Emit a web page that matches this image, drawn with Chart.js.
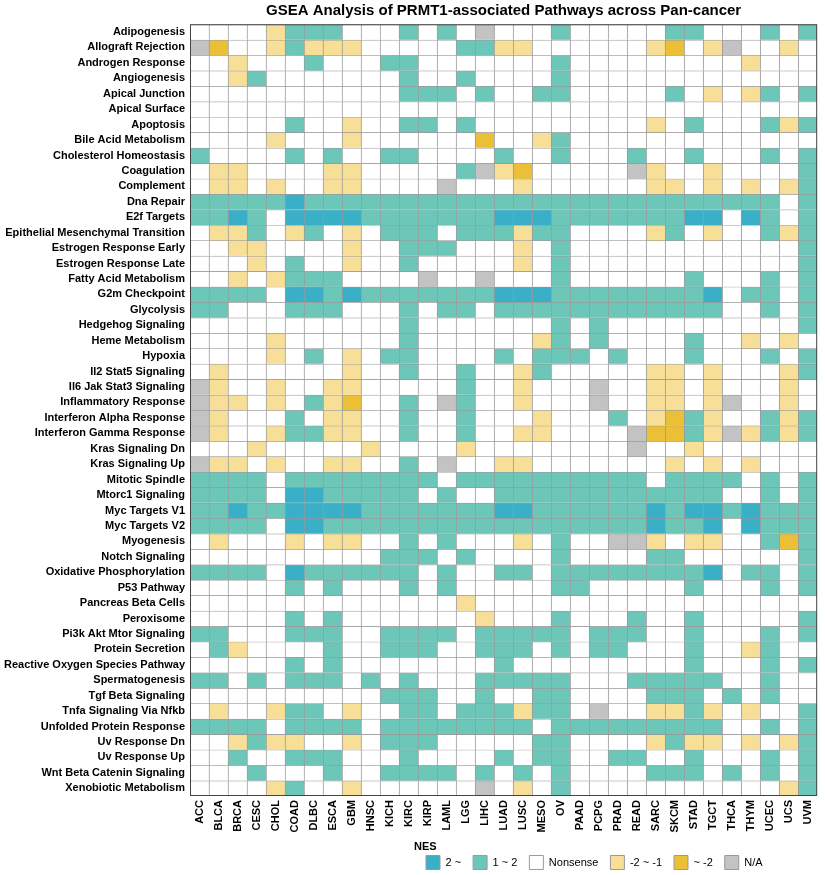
<!DOCTYPE html>
<html>
<head>
<meta charset="utf-8">
<script src="https://cdn.jsdelivr.net/npm/chart.js@4.4.1/dist/chart.umd.min.js"></script>
<style>
  html, body { margin: 0; padding: 0; background: #fff; }
  #wrap { width: 825px; height: 875px; }
</style>
</head>
<body>
<div id="wrap"><canvas id="gsea"></canvas></div>
<script>
const cancers = ['ACC', 'BLCA', 'BRCA', 'CESC', 'CHOL', 'COAD', 'DLBC', 'ESCA', 'GBM', 'HNSC', 'KICH',
    'KIRC', 'KIRP', 'LAML', 'LGG', 'LIHC', 'LUAD', 'LUSC', 'MESO', 'OV', 'PAAD', 'PCPG',
    'PRAD', 'READ', 'SARC', 'SKCM', 'STAD', 'TGCT', 'THCA', 'THYM', 'UCEC', 'UCS', 'UVM'];

const pathways = ['Adipogenesis', 'Allograft Rejection', 'Androgen Response', 'Angiogenesis',
    'Apical Junction', 'Apical Surface', 'Apoptosis', 'Bile Acid Metabolism', 'Cholesterol Homeostasis',
    'Coagulation', 'Complement', 'Dna Repair', 'E2f Targets', 'Epithelial Mesenchymal Transition',
    'Estrogen Response Early', 'Estrogen Response Late', 'Fatty Acid Metabolism', 'G2m Checkpoint',
    'Glycolysis', 'Hedgehog Signaling', 'Heme Metabolism', 'Hypoxia', 'Il2 Stat5 Signaling',
    'Il6 Jak Stat3 Signaling', 'Inflammatory Response', 'Interferon Alpha Response',
    'Interferon Gamma Response', 'Kras Signaling Dn', 'Kras Signaling Up', 'Mitotic Spindle',
    'Mtorc1 Signaling', 'Myc Targets V1', 'Myc Targets V2', 'Myogenesis', 'Notch Signaling',
    'Oxidative Phosphorylation', 'P53 Pathway', 'Pancreas Beta Cells', 'Peroxisome',
    'Pi3k Akt Mtor Signaling', 'Protein Secretion', 'Reactive Oxygen Species Pathway',
    'Spermatogenesis', 'Tgf Beta Signaling', 'Tnfa Signaling Via Nfkb', 'Unfolded Protein Response',
    'Uv Response Dn', 'Uv Response Up', 'Wnt Beta Catenin Signaling', 'Xenobiotic Metabolism'];

// one string per pathway, one char per cancer (ACC..KICH  KIRC..PCPG  PRAD..UVM)
// H = "2 ~", h = "1 ~ 2", . = Nonsense, l = "-2 ~ -1", L = "~ -2", x = N/A
const nesCodes = [
    '....lhhh... h.h.x...h.. ...hh...h.h',
    'xL..lhlll.. ...hhll.... ..lL.lx..l.',
    '..l...h...h h.......h.. .......l...',
    '..lh....... h..h....h.. ...........',
    '........... hhh.h..hh.. ...h.l.lh.h',
    '........... ........... ...........',
    '.....h..l.. hh.h....... ..l.h...hlh',
    '....l...l.. ....L..lh.. ...........',
    'h....h.h..h h....h..h.. .h..h...h.h',
    '.ll....ll.. ...hxlL.... .xl..l....h',
    '.ll.l..ll.. ..x...l.... ..ll.l.l.lh',
    'hhhhhHhhhhh hhhhhhhhhhh hhhhhhhhh.h',
    'hhHh.HHHHhh hhhhhHHHhhh hhhhHH.Hh.h',
    '.llh.lh.l.h hh.hhhlhh.. ..lh.l..hlh',
    '..ll....l.. hhh...l.h.. ..........h',
    '...l.h..l.. h.....l.h.. ..........h',
    '..l.lhhh... .x..x...h.. ....h...h.h',
    'hhhh.HHhHhh hhhhhHHHhhh hhhhhH.hh.h',
    'hh...hhh... h.hh.hhhhhh hhhhhh..h.h',
    '........... h.......h.h ..........h',
    '....l...... h......lh.h ....h..l.l.',
    '....l.h.l.h h....h.hhh. h...h...h.h',
    '.l......l.. h..h..lh... ..ll.l...lh',
    'xl..l..ll.. ...h..l...x ..ll.l...l.',
    'xll.l.hlL.. h.xh..l...x ..ll.lx..l.',
    'xl...h.ll.. h..h...l... h.lLhl..hlh',
    'xl..lhhll.. h..h..ll... .xLLhlxlhlh',
    '...l.....l. ...l....... .x..l......',
    'xll.l..ll.. h.x..ll.... ...l.l.l...',
    'hhhh.hhhhhh hh.hhhhhhhh hh.hhhh.h.h',
    'hhhh.HHhhhh h.h..hhhhhh hhhhhh..h.h',
    'hhHhhHHHHhh hhhhhHHhhhh hhHhHHhHhhh',
    'hhhh.HHhhhh hhhhhhhhhhh hhHhhH.Hhhh',
    '.l...l.ll.. h.h...l.h.. xxl.ll..hLh',
    '..........h hh.h....h.. ..hh......h',
    'hhhh.Hhhhhh h.h..hh.hhh hhhhhH.hh.h',
    '.....h.h... h.h.....hh. ....h...h.h',
    '........... ...l....... ...........',
    '.....h.h... ....l...h.. .h..h.....h',
    'hh...hhh..h hhh.hhhhh.h hh..h...h.h',
    '.hl....h..h hh..hhh.h.h h...h..lh..',
    '.....h.h... .....h..... ....h...h.h',
    'hh.h.hhh.h. h...hhhhh.. .hhhhh..h..',
    '..........h hh..h..hh.. ..hhh.h.h..',
    '.l..lhh.l.. hh.hhhlhh.x ..llhl.l..h',
    'hhhh.hhhh.h hhhhhhh.hhh hhhhhh..h.h',
    '..lhll..l.h hh.....hh.. ..lhll.l.lh',
    '..h..hhh... h....h.hh.. hh..h...h.h',
    '...h...h..h hhh.h.h.h.. ..hhh.h.h.h',
    '....lh..l.. ....x.l.h.. .........lh'
];

const nesLevels = ['H', 'h', '.', 'l', 'L', 'x'];
const nesLabels = ['2 ~', '1 ~ 2', 'Nonsense', '-2 ~ -1', '~ -2', 'N/A'];
const nesColors = ['#3AB0C8', '#6DC7B9', '#FFFFFF', '#F8DF98', '#EBBF36', '#C3C3C3'];

Chart.defaults.font.family = "'Liberation Sans', Arial, sans-serif";
Chart.defaults.color = '#000';

// one stacked dataset per pathway row, each cell one unit tall
const datasets = pathways.map((name, i) => {
    const codes = nesCodes[i].replace(/ /g, '').split('');
    return {
        label: name,
        data: cancers.map(() => 1),
        backgroundColor: codes.map(c => nesColors[nesLevels.indexOf(c)]),
        borderColor: '#9a9a9a',
        borderWidth: { top: 1, left: 1, right: 0, bottom: 0 },
        borderSkipped: false,
        barPercentage: 1,
        categoryPercentage: 1,
        stack: 'nes'
    };
});

// legend sits to the right of centre in the original
const legendShift = {
    id: 'legendShift',
    afterLayout(chart) {
        const lg = chart.legend;
        lg.left = 414;
        lg.right = lg.left + lg.width;
    }
};

const frame = {
    id: 'frame',
    afterDatasetsDraw(chart) {
        const { ctx, chartArea: a } = chart;
        ctx.save();
        ctx.strokeStyle = '#444';
        ctx.lineWidth = 1;
        ctx.strokeRect(a.left + 0.5, a.top + 0.5, a.width - 1, a.height - 1);
        ctx.restore();
    }
};

new Chart(document.getElementById('gsea'), {
    type: 'bar',
    data: { labels: cancers, datasets: datasets },
    options: {
        responsive: true,
        maintainAspectRatio: false,
        animation: false,
        layout: { padding: { top: 0, left: 0, right: 2, bottom: 0 } },
        scales: {
            x: {
                type: 'category',
                stacked: true,
                grid: { display: false, drawTicks: false },
                border: { display: false },
                ticks: {
                    autoSkip: false,
                    minRotation: 90,
                    maxRotation: 90,
                    padding: 4,
                    font: { size: 11, weight: 'bold' }
                },
                afterFit: s => { s.height = 45; }
            },
            y: {
                type: 'linear',
                stacked: true,
                min: 0,
                max: pathways.length,
                reverse: true,
                grid: { display: false, drawTicks: false },
                border: { display: false },
                afterBuildTicks: s => { s.ticks = pathways.map((_, i) => ({ value: i + 0.5 })); },
                ticks: {
                    autoSkip: false,
                    padding: 5,
                    font: { size: 11, weight: 'bold' },
                    callback: (v, i) => pathways[i]
                },
                afterFit: s => { s.width = 190; }
            }
        },
        plugins: {
            title: {
                display: true,
                fullSize: false,
                text: 'GSEA Analysis of PRMT1-associated Pathways across Pan-cancer',
                font: { size: 15, weight: 'bold' },
                color: '#000',
                padding: { top: 2, bottom: 4.3 }
            },
            legend: {
                display: true,
                position: 'bottom',
                align: 'start',
                fullSize: false,
                maxHeight: 34,
                onClick: null,
                title: {
                    display: true,
                    text: 'NES',
                    position: 'start',
                    font: { size: 11, weight: 'bold' },
                    color: '#000',
                    padding: { top: 0, bottom: -10.7 }
                },
                labels: {
                    boxWidth: 14,
                    boxHeight: 14,
                    padding: 12,
                    font: { size: 11 },
                    color: '#000',
                    generateLabels: () => nesLabels.map((t, k) => ({
                        text: t,
                        fillStyle: nesColors[k],
                        strokeStyle: '#9a9a9a',
                        lineWidth: 1,
                        hidden: false,
                        datasetIndex: 0
                    }))
                }
            },
            tooltip: { enabled: false }
        }
    },
    plugins: [legendShift, frame]
});
</script>
</body>
</html>
